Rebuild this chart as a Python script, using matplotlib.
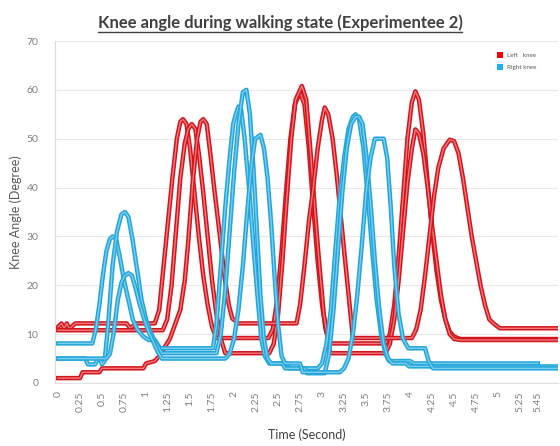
import matplotlib
matplotlib.use("Agg")
import matplotlib.pyplot as plt
import matplotlib.patheffects as pe
from matplotlib.patches import Patch
from matplotlib.lines import Line2D

# Left knee (red) - three trials
left1_t = [0, 0.04, 0.07, 0.1, 0.13, 0.17, 0.2, 0.78, 0.82, 0.86, 0.9, 1.1, 1.15, 1.2, 1.25, 1.3, 1.35, 1.39,
           1.42, 1.46, 1.5, 1.55, 1.6, 1.65, 1.7, 1.75, 1.8, 2.39, 2.44, 2.49, 2.54, 2.59, 2.64, 2.69, 2.75, 2.8,
           2.85, 2.9, 2.95, 3.0, 3.04, 3.09, 3.72, 3.77, 3.82, 3.87, 3.92, 3.97, 4.02, 4.06, 4.1, 4.15, 4.2, 4.25,
           4.3, 4.35, 4.4, 4.45, 4.5, 4.57, 5.7]
left1_v = [11.5, 12.2, 11.2, 12.2, 11.0, 11.8, 12.2, 12.2, 11.2, 11.8, 12.2, 12.2, 15, 24, 33, 42, 50, 53.5,
           54, 53, 48, 39, 30, 22, 16, 11.5, 9.2, 9.2, 11, 17, 27, 39, 50, 57, 59.5, 57, 48, 36, 25, 16, 11, 8.1,
           8.1, 10, 16, 26, 38, 50, 57.5, 59.7, 58, 51, 41, 31, 23, 17, 13, 10.5, 9.5, 9, 9]

left2_t = [0, 1.19, 1.24, 1.29, 1.34, 1.39, 1.44, 1.48, 1.52, 1.56, 1.6, 1.65, 1.7, 1.75, 1.8, 1.85, 1.9, 2.4,
           2.45, 2.5, 2.55, 2.6, 2.65, 2.7, 2.77, 2.82, 2.87, 2.92, 2.97, 3.02, 3.09, 3.72, 3.77, 3.82, 3.87, 3.92,
           3.97, 4.02, 4.06, 4.1, 4.15, 4.2, 4.25, 4.3, 4.35, 4.4, 4.45, 4.5, 4.57, 5.7]
left2_v = [10.8, 10.8, 13, 20, 31, 42, 49, 52, 53, 52, 47, 39, 30, 21, 14, 9, 6.1, 6.1, 8, 14, 25, 38, 50, 58,
           60.8, 58, 47, 35, 24, 14, 6.1, 6.1, 8, 13, 21, 31, 41, 48, 51.9, 51, 47, 40, 32, 25, 18, 13, 10, 9,
           8.8, 8.8]

left3_t = [0, 0.25, 0.28, 0.47, 0.5, 0.97, 1.0, 1.1, 1.15, 1.2, 1.27, 1.33, 1.39, 1.44, 1.48, 1.53, 1.58, 1.62,
           1.65, 1.69, 1.73, 1.78, 1.84, 1.89, 1.94, 1.98, 2.05, 2.71, 2.75, 2.8, 2.85, 2.9, 2.95, 3.0, 3.03,
           3.07, 3.12, 3.17, 3.24, 3.29, 3.35, 4.02, 4.07, 4.12, 4.17, 4.22, 4.27, 4.32, 4.38, 4.45, 4.5, 4.55,
           4.6, 4.65, 4.7, 4.75, 4.8, 4.85, 4.9, 4.96, 5.02, 5.7]
left3_v = [1, 1, 2.2, 2.2, 3, 3, 4, 4.5, 5.5, 7, 9, 12, 15, 21, 29, 41, 50, 53.5, 54, 53, 47, 39, 30, 22, 16,
           13.2, 12.2, 12.2, 16, 24, 33, 40, 48, 54, 56.4, 55, 50, 42, 29, 20, 9.2, 9.2, 11, 15, 22, 30, 38, 44,
           48, 49.8, 49.5, 47, 42, 36, 30, 25, 20, 16, 13, 12, 11.2, 11.2]

# Right knee (blue) - three trials
right1_t = [0, 0.39, 0.43, 0.47, 0.51, 0.55, 0.59, 0.62, 0.66, 0.7, 0.75, 0.8, 0.85, 0.9, 0.97, 1.03, 1.1, 1.16,
            1.76, 1.8, 1.85, 1.9, 1.95, 1.99, 2.02, 2.05, 2.08, 2.12, 2.17, 2.22, 2.27, 2.31, 2.35, 2.4, 2.6,
            2.63, 2.95, 3.0, 3.05, 3.1, 3.15, 3.2, 3.25, 3.3, 3.35, 3.38, 3.42, 3.47, 3.52, 3.57, 3.62, 3.67,
            3.72, 3.76, 4.0, 4.04, 5.45]
right1_v = [8.1, 8.1, 11, 16, 22, 27, 29.5, 30, 29.5, 26, 21, 17, 13, 11, 9.5, 8.8, 8.8, 7.1, 7.1, 12, 24, 36,
            46, 53, 55, 56.6, 56, 50, 40, 28, 17, 9, 5.5, 4, 4, 3, 3, 4, 8, 15, 27, 38, 46, 52, 54.5, 55, 54,
            48, 38, 27, 17, 10, 6, 4.5, 4.5, 4, 4]

right2_t = [0, 0.31, 0.34, 0.42, 0.45, 0.48, 0.5, 0.53, 0.57, 0.62, 0.67, 0.72, 0.76, 0.8, 0.85, 0.9, 0.95, 1.0,
            1.05, 1.1, 1.18, 1.8, 1.85, 1.9, 1.95, 2.0, 2.05, 2.1, 2.14, 2.18, 2.22, 2.26, 2.3, 2.34, 2.38, 2.42,
            2.55, 2.58, 2.8, 2.83, 3.03, 3.08, 3.13, 3.18, 3.23, 3.28, 3.33, 3.38, 3.42, 3.46, 3.5, 3.55, 3.6,
            3.65, 3.7, 3.75, 3.8, 3.95, 3.99, 5.7]
right2_v = [5, 5, 3.8, 3.8, 4.8, 4.8, 3.8, 4.5, 12, 24, 31, 34.5, 35, 34, 29, 23, 17, 13, 10.5, 8.5, 6.1, 6.1,
            10, 19, 31, 43, 53, 59.5, 60, 55, 44, 31, 18, 9, 5, 4, 4, 3, 3, 2, 2, 6, 15, 27, 39, 48, 53, 54.5,
            54.5, 53, 47, 37, 25, 15, 8, 5, 4, 4, 3.4, 3.4]

right3_t = [0, 0.55, 0.59, 0.63, 0.68, 0.72, 0.76, 0.8, 0.84, 0.88, 0.93, 0.98, 1.03, 1.08, 1.13, 1.18, 1.9,
            1.95, 2.0, 2.05, 2.1, 2.15, 2.2, 2.24, 2.3, 2.34, 2.38, 2.42, 2.46, 2.5, 2.54, 2.58, 2.75, 2.78, 3.2,
            3.25, 3.3, 3.35, 3.4, 3.45, 3.5, 3.55, 3.6, 3.7, 3.74, 3.78, 3.82, 3.87, 3.92, 3.98, 4.17, 4.21,
            4.26, 5.7]
right3_v = [5, 5, 6, 10, 17, 20.5, 22, 22.5, 22, 19.5, 16, 13, 10.5, 8.5, 6.5, 5, 5, 6, 9, 15, 24, 35, 45, 50,
            50.8, 48, 42, 33, 22, 12, 5.5, 4, 4, 2.2, 2.2, 3, 5, 10, 18, 28, 39, 46, 50, 50, 46, 36, 24, 14, 9,
            7.1, 7.1, 4.5, 3, 3]

x_ticks = [0, 0.25, 0.5, 0.75, 1, 1.25, 1.5, 1.75, 2, 2.25, 2.5, 2.75, 3, 3.25, 3.5, 3.75, 4, 4.25, 4.5,
           4.75, 5, 5.25, 5.45]
x_labels = ["0", "0.25", "0.5", "0.75", "1", "1.25", "1.5", "1.75", "2", "2.25", "2.5", "2.75", "3", "3.25",
            "3.5", "3.75", "4", "4.25", "4.5", "4.75", "5", "5.25", "5.45"]
y_ticks = [0, 10, 20, 30, 40, 50, 60, 70]

RED_OUT, RED_IN = "#d4141c", "#f07a7e"
BLUE_OUT, BLUE_IN = "#22a6da", "#7dcdef"

plt.rcParams["font.family"] = ["Lato", "DejaVu Sans"]

fig = plt.figure(figsize=(5.6, 4.46), dpi=100)
ax = fig.add_axes([55 / 560, 1 - 383 / 446, 503 / 560, 342 / 446])


def draw(t, v, outer, inner):
    ln, = ax.plot(t, v, color=inner, lw=1.0, solid_joinstyle="round")
    ln.set_path_effects([pe.Stroke(linewidth=3.2, foreground=outer), pe.Normal()])


for t, v in [(left1_t, left1_v), (left2_t, left2_v), (left3_t, left3_v)]:
    draw(t, v, RED_OUT, RED_IN)
for t, v in [(right1_t, right1_v), (right2_t, right2_v), (right3_t, right3_v)]:
    draw(t, v, BLUE_OUT, BLUE_IN)

ax.set_xlim(-0.034, 5.68)
ax.set_ylim(0, 70)
ax.set_yticks(y_ticks)
ax.set_xticks(x_ticks)
ax.set_xticklabels(x_labels, rotation=90)
ax.tick_params(axis="both", length=0, colors="#7f7f7f", labelsize=7.5)
ax.tick_params(axis="y", pad=12)
ax.tick_params(axis="x", pad=6)
ax.grid(axis="y", color="#e8e8e8", lw=0.8)
ax.set_axisbelow(True)
for s in ["top", "right"]:
    ax.spines[s].set_visible(False)
ax.spines["left"].set_color("#d9d9d9")
ax.spines["bottom"].set_color("#e0e0e0")

ax.set_ylabel("Knee Angle (Degree)", fontsize=9, color="#595959", labelpad=3)
ax.set_xlabel("Time (Second)", fontsize=9, color="#404040", labelpad=12)

handles = [Patch(facecolor="#ff0000", edgecolor="none"), Patch(facecolor="#1fb0ef", edgecolor="none")]
ax.legend(handles, ["Left   knee", "Right knee"], loc="upper left", bbox_to_anchor=(0.868, 0.985),
          frameon=False, fontsize=4.5, handlelength=0.9, handleheight=1.1, handletextpad=0.6,
          labelspacing=0.9, labelcolor="#595959")

title = fig.text(0.5, 0.95, "Knee angle during walking state (Experimentee 2)", ha="center", va="center",
                 fontsize=12, fontweight="bold", color="#404040")

fig.canvas.draw()
bb = title.get_window_extent().transformed(fig.transFigure.inverted())
fig.add_artist(Line2D([bb.x0, bb.x1], [bb.y0 - 0.004, bb.y0 - 0.004], transform=fig.transFigure,
                      color="#404040", lw=1.0))

fig.savefig("out.png", dpi=100)
